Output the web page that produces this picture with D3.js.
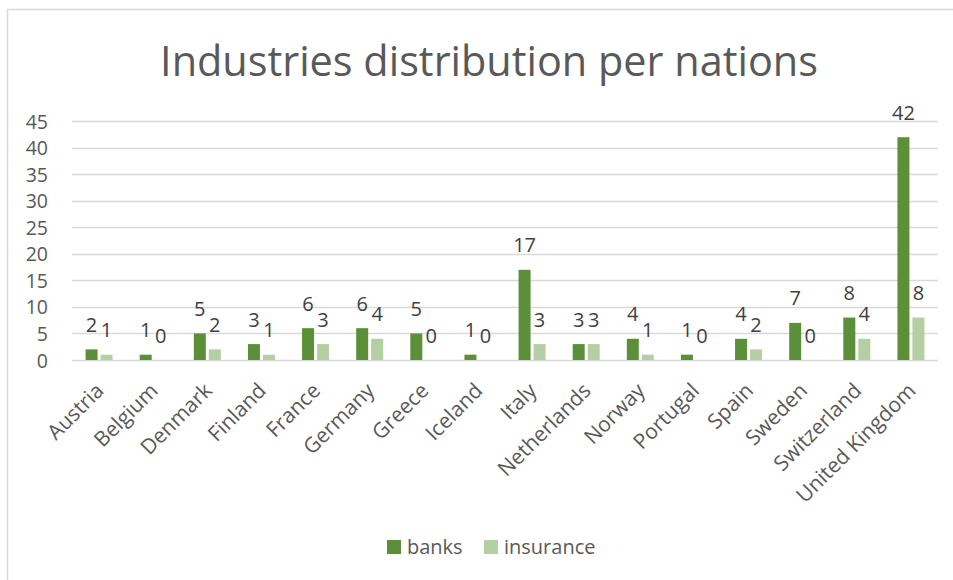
<!DOCTYPE html>
<html>
<head>
<meta charset="utf-8">
<script src="https://cdn.jsdelivr.net/npm/d3@7/dist/d3.min.js"></script>
<style>
  html, body { margin: 0; padding: 0; background: #fff; }
  svg { display: block; font-family: "Open Sans", "Noto Sans", sans-serif; }
</style>
</head>
<body>
<svg id="chart" width="953" height="580"></svg>
<script>
// Number of companies per nation, by industry
const nations = ["Austria", "Belgium", "Denmark", "Finland", "France", "Germany", "Greece", "Iceland",
  "Italy", "Netherlands", "Norway", "Portugal", "Spain", "Sweden", "Switzerland", "United Kingdom"];
const banks     = [2, 1, 5, 3, 6, 6, 5, 1, 17, 3, 4, 1, 4, 7, 8, 42];
const insurance = [1, 0, 2, 1, 3, 4, 0, 0, 3, 3, 1, 0, 2, 0, 4, 8];
const seriesNames = ["banks", "insurance"];
const yTicks = [0, 5, 10, 15, 20, 25, 30, 35, 40, 45];
const titleText = "Industries distribution per nations";

const colors = { banks: "#5B8F3A", insurance: "#B4CFA4" };
const FONT = "'Open Sans', 'Noto Sans', sans-serif";

const svg = d3.select("#chart");
const W = 953, H = 580;
const plot = { left: 72, right: 938, top: 121.3, bottom: 360 };

// chart frame
svg.append("rect")
  .attr("x", 7.5).attr("y", 9.5)
  .attr("width", W + 20).attr("height", H + 20)
  .attr("fill", "#fff").attr("stroke", "#d9d9d9").attr("stroke-width", 1.5);

// title, sized to its span
const title = svg.append("text")
  .attr("x", 489).attr("y", 76)
  .attr("text-anchor", "middle")
  .attr("fill", "#595959")
  .attr("font-size", 40)
  .text(titleText);
const tw = title.node().getComputedTextLength();
title.attr("font-size", 40 * 658 / tw);

const x = d3.scaleBand().domain(nations).range([plot.left, plot.right]).paddingInner(0).paddingOuter(0);
const y = d3.scaleLinear().domain([0, 45]).range([plot.bottom, plot.top]);

// gridlines
svg.append("g").selectAll("line").data(yTicks).join("line")
  .attr("x1", plot.left).attr("x2", plot.right)
  .attr("y1", d => Math.round(y(d)) + 0.5).attr("y2", d => Math.round(y(d)) + 0.5)
  .attr("stroke", "#d9d9d9").attr("stroke-width", 1.3);

// y axis labels
const yAxis = d3.axisLeft(y).tickValues(yTicks).tickSize(0).tickPadding(0);
const yg = svg.append("g").attr("transform", "translate(48,0)").call(yAxis);
yg.select(".domain").remove();
yg.selectAll("text").attr("fill", "#595959").attr("font-size", 19.5)
  .attr("font-family", FONT).attr("dy", "0.36em");

// bars
const barW = 12, gap = 3;
const sub = d3.scaleOrdinal().domain(seriesNames).range([-(barW + gap / 2), gap / 2]);
const rows = nations.map((n, i) => ({ nation: n, banks: banks[i], insurance: insurance[i] }));

const groups = svg.append("g").selectAll("g").data(rows).join("g")
  .attr("transform", d => `translate(${x(d.nation) + x.bandwidth() / 2},0)`);

seriesNames.forEach(s => {
  groups.append("rect")
    .attr("x", sub(s)).attr("width", barW)
    .attr("y", d => y(d[s])).attr("height", d => plot.bottom - y(d[s]))
    .attr("fill", colors[s]);
  groups.append("text")
    .attr("x", sub(s) + barW / 2)
    .attr("y", d => y(d[s]) - 17.5)
    .attr("text-anchor", "middle")
    .attr("fill", "#404040")
    .attr("font-size", 20)
    .text(d => d[s]);
});

// category labels, rotated
const xAxis = d3.axisBottom(x).tickSize(0).tickPadding(0);
const xg = svg.append("g").attr("transform", `translate(0,${plot.bottom})`).call(xAxis);
xg.select(".domain").remove();
xg.selectAll("text")
  .attr("fill", "#595959").attr("font-size", 21)
  .attr("font-family", FONT)
  .attr("text-anchor", "end")
  .attr("dy", 0).attr("y", 0)
  .attr("transform", "translate(6,32) rotate(-45)");

// legend
const legend = svg.append("g").attr("transform", "translate(387,540)");
const legendX = { banks: 0, insurance: 97 };
seriesNames.forEach(s => {
  const g = legend.append("g").attr("transform", `translate(${legendX[s]},0)`);
  g.append("rect").attr("width", 14).attr("height", 14).attr("fill", colors[s]);
  g.append("text").attr("x", 20).attr("y", 14).attr("fill", "#595959")
    .attr("font-size", 20).text(s);
});
</script>
</body>
</html>
